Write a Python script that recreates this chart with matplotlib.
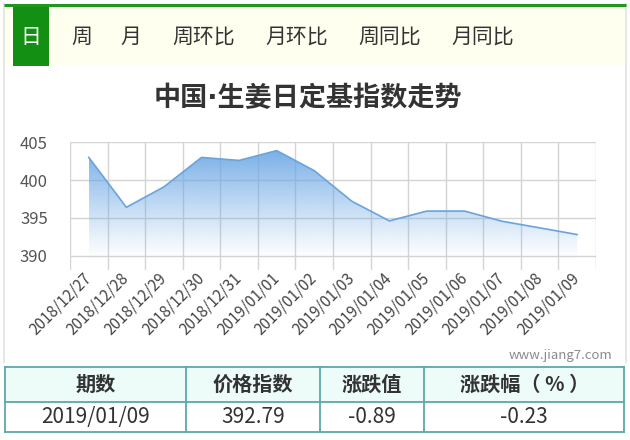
import matplotlib
matplotlib.use('Agg')
import matplotlib.pyplot as plt
import numpy as np
from matplotlib.patches import Rectangle

plt.rcParams['font.family'] = ['Noto Sans CJK SC', 'DejaVu Sans']

# ---- data ----
dates = ['2018/12/27', '2018/12/28', '2018/12/29', '2018/12/30', '2018/12/31',
         '2019/01/01', '2019/01/02', '2019/01/03', '2019/01/04', '2019/01/05',
         '2019/01/06', '2019/01/07', '2019/01/08', '2019/01/09']
values = [403.0, 396.4, 399.1, 403.0, 402.6, 403.9, 401.25, 397.2, 394.6,
          395.9, 395.9, 394.55, 393.68, 392.79]
y_ticks = [390, 395, 400, 405]
tabs = ['日', '周', '月', '周环比', '月环比', '周同比', '月同比']
title = '中国·生姜日定基指数走势'
table_header = ['期数', '价格指数', '涨跌值', '涨跌幅（ % ）']
table_row = ['2019/01/09', '392.79', '-0.89', '-0.23']
watermark = 'www.jiang7.com'

W, H = 630, 440
fig = plt.figure(figsize=(W / 100, H / 100), dpi=100)
fig.patch.set_facecolor('white')

# background / decoration layer in pixel coordinates
bg = fig.add_axes([0, 0, 1, 1], zorder=0)
bg.set_xlim(0, W)
bg.set_ylim(H, 0)
bg.axis('off')

# outer light border
bg.plot([4, 4], [4, 362], color='#e2e2e2', lw=1.2)
bg.plot([626, 626], [4, 362], color='#e2e2e2', lw=1.2)

# tab bar
bg.add_patch(Rectangle((4, 6), 622, 60, facecolor='#fffff0', edgecolor='none'))
bg.plot([4, 626], [5, 5], color='#1f961f', lw=2.2, solid_capstyle='butt')
bg.add_patch(Rectangle((12.5, 6), 36, 60, facecolor='#139013', edgecolor='none'))
tab_x = [30.5, 81.5, 131, 204, 297, 390, 483]
for i, (t, tx) in enumerate(zip(tabs, tab_x)):
    bg.text(tx, 37, t, ha='center', va='center', fontsize=15,
            color='white' if i == 0 else '#333333')

# title (narrow middle dot from DejaVu, CJK from Noto)
bg.text(308, 99, title, ha='center', va='center', fontsize=19.5,
        fontweight='bold', color='#333333',
        family=['DejaVu Sans', 'Noto Sans CJK SC'])

# watermark
bg.text(612, 355, watermark, ha='right', va='center', fontsize=9.5, color='#8a8a8a')

# table
col_x = [5, 185.7, 320, 424.3, 624]
row_y = [367.5, 401.7, 432.3]
bcol = '#5ea7a8'
bg.add_patch(Rectangle((col_x[0], row_y[0]), col_x[-1] - col_x[0], row_y[1] - row_y[0],
                       facecolor='#eefcf9', edgecolor='none'))
for yy in row_y:
    bg.plot([col_x[0], col_x[-1]], [yy, yy], color=bcol, lw=1.3)
for xx in col_x:
    bg.plot([xx, xx], [row_y[0], row_y[-1]], color=bcol, lw=1.3)
for i in range(4):
    cx = (col_x[i] + col_x[i + 1]) / 2
    bg.text(cx, (row_y[0] + row_y[1]) / 2, table_header[i], ha='center', va='center',
            fontsize=14.5, fontweight='bold', color='#333333')
    bg.text(cx, (row_y[1] + row_y[2]) / 2, table_row[i], ha='center', va='center',
            fontsize=15, color='#333333')

# ---- chart ----
ax = fig.add_axes([70 / W, 1 - 270 / H, (596 - 70) / W, (270 - 142.3) / H], zorder=1)
ax.set_facecolor('none')
x = np.arange(len(values))

for v in np.arange(-0.5, len(values), 1.0):
    ax.axvline(v, color='#d4d4d4', lw=1.0, zorder=1)
for h in y_ticks:
    ax.axhline(h, color='#d4d4d4', lw=1.0, zorder=1)

poly = ax.fill_between(x, values, 389.5, facecolor='none', edgecolor='none')
ng = 256
grad = np.zeros((ng, 1, 4))
t = np.linspace(0, 1, ng)
grad[:, 0, 0] = 104 / 255
grad[:, 0, 1] = 165 / 255
grad[:, 0, 2] = 228 / 255
grad[:, 0, 3] = np.clip(t * 1.0, 0, 1) ** 1.1 * 0.97
im = ax.imshow(grad, extent=[x[0], x[-1], 389.5, 405], origin='lower',
               aspect='auto', zorder=2, interpolation='bilinear')
im.set_clip_path(poly.get_paths()[0], transform=ax.transData)

ax.plot(x, values, color='#6ba3dc', lw=1.2, zorder=3)

ax.set_xlim(-0.5, len(values) - 0.5)
ax.set_ylim(388.1, 405)
for s in ax.spines.values():
    s.set_visible(False)

ax.set_yticks(y_ticks)
ax.set_yticklabels([str(v) for v in y_ticks], fontsize=12, color='#555555')
ax.set_xticks(x)
ax.set_xticklabels(dates, fontsize=11, color='#444444')
for lab in ax.get_xticklabels():
    lab.set_rotation(45)
    lab.set_ha('right')
    lab.set_va('center')
    lab.set_rotation_mode('anchor')
ax.tick_params(axis='x', length=0, pad=4)
ax.tick_params(axis='y', length=0, pad=16)

fig.savefig('out.png', dpi=100, facecolor='white')
